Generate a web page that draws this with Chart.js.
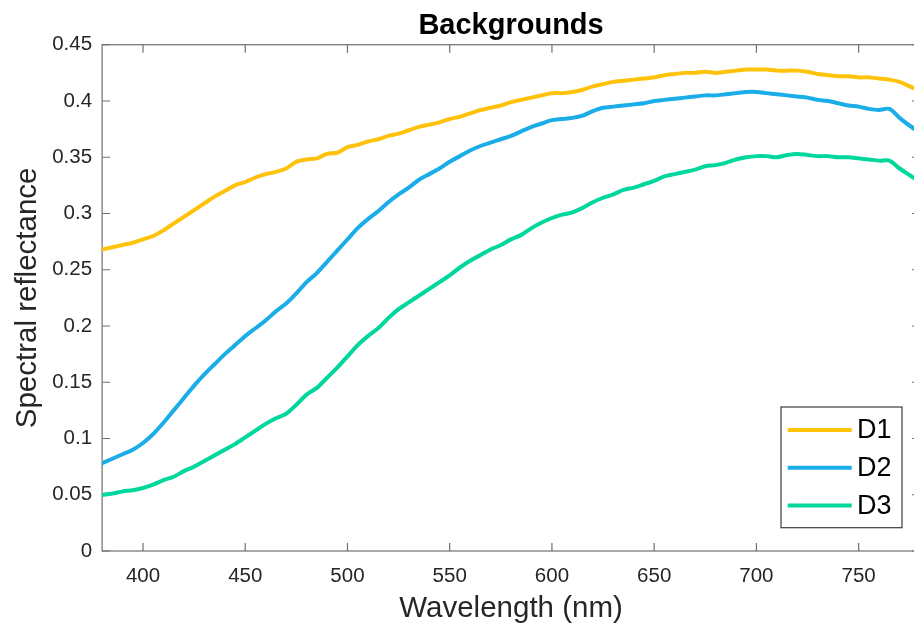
<!DOCTYPE html>
<html><head><meta charset="utf-8">
<script src="https://cdn.jsdelivr.net/npm/chart.js@4.4.1/dist/chart.umd.min.js"></script>
<style>html,body{margin:0;padding:0;background:#fff;overflow:hidden;width:914px;height:626px}canvas{display:block}</style>
</head><body>
<canvas id="c" width="924" height="626"></canvas>
<script>
// ---- data ----
const wavelengths = [380,385,390,395,400,405,410,415,420,425,430,435,440,445,450,455,460,465,470,475,
480,485,490,495,500,505,510,515,520,525,530,535,540,545,550,555,560,565,570,575,
580,585,590,595,600,605,610,615,620,625,630,635,640,645,650,655,660,665,670,675,
680,685,690,695,700,705,710,715,720,725,730,735,740,745,750,755,760,765,770,775,780];
const d1 = [0.268,0.270,0.272,0.274,0.277,0.280,0.285,0.291,0.297,0.303,
0.309,0.315,0.320,0.325,0.328,0.332,0.335,0.337,0.340,0.346,
0.348,0.349,0.353,0.354,0.359,0.361,0.364,0.366,0.369,0.371,
0.374,0.377,0.379,0.381,0.384,0.386,0.389,0.392,0.394,0.396,
0.399,0.401,0.403,0.405,0.407,0.407,0.408,0.410,0.413,0.415,
0.417,0.418,0.419,0.420,0.421,0.423,0.424,0.425,0.425,0.426,
0.425,0.426,0.427,0.428,0.428,0.428,0.427,0.427,0.427,0.426,
0.424,0.423,0.422,0.422,0.421,0.421,0.420,0.419,0.417,0.413,0.409];
const d2 = [0.078,0.082,0.086,0.090,0.096,0.104,0.114,0.125,0.136,0.147,
0.157,0.166,0.175,0.183,0.191,0.198,0.205,0.213,0.220,0.229,
0.239,0.247,0.257,0.267,0.277,0.287,0.295,0.302,0.310,0.317,
0.323,0.330,0.335,0.340,0.346,0.351,0.356,0.360,0.363,0.366,
0.369,0.373,0.377,0.380,0.383,0.384,0.385,0.387,0.391,0.394,
0.395,0.396,0.397,0.398,0.400,0.401,0.402,0.403,0.404,0.405,
0.405,0.406,0.407,0.408,0.408,0.407,0.406,0.405,0.404,0.403,
0.401,0.400,0.398,0.396,0.395,0.393,0.392,0.393,0.385,0.378,0.372];
const d3 = [0.050,0.051,0.053,0.054,0.056,0.059,0.063,0.066,0.071,0.075,
0.080,0.085,0.090,0.095,0.101,0.107,0.113,0.118,0.122,0.130,
0.139,0.145,0.154,0.163,0.173,0.183,0.191,0.198,0.207,0.215,
0.221,0.227,0.233,0.239,0.245,0.252,0.258,0.263,0.268,0.272,
0.277,0.281,0.287,0.292,0.296,0.299,0.301,0.305,0.310,0.314,
0.317,0.321,0.323,0.326,0.329,0.333,0.335,0.337,0.339,0.342,
0.343,0.345,0.348,0.350,0.351,0.351,0.350,0.352,0.353,0.352,
0.351,0.351,0.350,0.350,0.349,0.348,0.347,0.347,0.340,0.334,0.328];
const seriesNames = ['D1','D2','D3'];
const seriesColors = ['#FFC20A','#1BADE8','#00D79C'];
const xTickValues = [400,450,500,550,600,650,700,750];
const yTickValues = [0,0.05,0.1,0.15,0.2,0.25,0.3,0.35,0.4,0.45];
const yTickLabels = ['0','0.05','0.1','0.15','0.2','0.25','0.3','0.35','0.4','0.45'];

const FONT = '"Liberation Sans", Arial, Helvetica, sans-serif';
const seriesValues = [d1, d2, d3];

// centre the title over the plot area (as in the reference)
const titleCenterPlugin = {
  id: 'titleCenter',
  afterLayout(chart) {
    const tb = chart.titleBlock;
    if (tb) { tb.left = chart.chartArea.left; tb.right = chart.chartArea.right; }
  }
};

const framePlugin = {
  id: 'frame',
  beforeDatasetsDraw(chart) {
    const {ctx, chartArea: a, scales: {x, y}} = chart;
    ctx.save();
    ctx.strokeStyle = '#707070';
    ctx.lineWidth = 1.2;
    ctx.strokeRect(a.left, a.top, a.right - a.left, a.bottom - a.top);
    ctx.beginPath();
    const L = 8;
    x.ticks.forEach(t => {
      const px = x.getPixelForValue(t.value);
      ctx.moveTo(px, a.bottom); ctx.lineTo(px, a.bottom - L);
      ctx.moveTo(px, a.top); ctx.lineTo(px, a.top + L);
    });
    y.ticks.forEach(t => {
      const py = y.getPixelForValue(t.value);
      ctx.moveTo(a.left, py); ctx.lineTo(a.left + L, py);
      ctx.moveTo(a.right, py); ctx.lineTo(a.right - L, py);
    });
    ctx.stroke();
    ctx.restore();
  }
};

const legendPlugin = {
  id: 'boxLegend',
  afterDatasetsDraw(chart) {
    const {ctx, chartArea: a} = chart;
    const w = 121, h = 120.7;
    const right = a.right - 18, bottom = a.bottom - 23.3;
    const left = right - w, top = bottom - h;
    ctx.save();
    ctx.fillStyle = '#ffffff';
    ctx.fillRect(left, top, w, h);
    ctx.strokeStyle = '#3c3c3c';
    ctx.lineWidth = 1.2;
    ctx.strokeRect(left, top, w, h);
    ctx.font = '27px ' + FONT;
    ctx.textBaseline = 'middle';
    ctx.textAlign = 'left';
    chart.data.datasets.forEach((ds, i) => {
      const cy = top + 23 + i * 37.8;
      ctx.strokeStyle = ds.borderColor;
      ctx.lineWidth = 4;
      ctx.beginPath();
      ctx.moveTo(left + 6.7, cy); ctx.lineTo(left + 70.7, cy);
      ctx.stroke();
      ctx.fillStyle = '#000';
      ctx.fillText(ds.label, left + 76, cy + 1);
    });
    ctx.restore();
  }
};

new Chart(document.getElementById('c'), {
  type: 'line',
  data: {
    datasets: seriesNames.map((name, i) => ({
      label: name,
      data: wavelengths.map((w, j) => ({x: w, y: seriesValues[i][j]})),
      borderColor: seriesColors[i],
      backgroundColor: seriesColors[i],
      borderWidth: 4,
      pointRadius: 0,
      tension: 0.3,
      borderJoinStyle: 'round',
      borderCapStyle: 'round',
      fill: false
    }))
  },
  options: {
    responsive: false,
    animation: false,
    devicePixelRatio: 1,
    layout: {padding: {left: 0, right: 4, top: 0, bottom: 0}},
    plugins: {
      legend: {display: false},
      tooltip: {enabled: false},
      title: {
        display: true,
        text: 'Backgrounds',
        color: '#000',
        font: {family: FONT, size: 29, weight: 'bold', lineHeight: 1.2},
        padding: {top: 9, bottom: 0.95}
      }
    },
    scales: {
      x: {
        type: 'linear',
        min: 380, max: 780,
        grid: {display: false, drawTicks: false},
        border: {display: false},
        afterBuildTicks: s => { s.ticks = xTickValues.map(v => ({value: v})); },
        afterFit: s => { s.height = 75; },
        ticks: {
          autoSkip: false, maxRotation: 0, padding: 13,
          color: '#262626',
          font: {family: FONT, size: 20.5},
          callback: v => String(v)
        },
        title: {
          display: true, text: 'Wavelength (nm)', color: '#262626',
          font: {family: FONT, size: 29.5, lineHeight: 1},
          padding: {top: 0, bottom: 2}
        }
      },
      y: {
        type: 'linear',
        min: 0, max: 0.45,
        grid: {display: false, drawTicks: false},
        border: {display: false},
        afterBuildTicks: s => { s.ticks = yTickValues.map(v => ({value: v})); },
        afterFit: s => { s.width = 102.1; },
        ticks: {
          autoSkip: false, padding: 10,
          color: '#262626',
          font: {family: FONT, size: 20.5},
          callback: (v, i) => yTickLabels[i]
        },
        title: {
          display: true, text: 'Spectral reflectance', color: '#262626',
          font: {family: FONT, size: 29.5, lineHeight: 1},
          padding: {top: 13.5, bottom: 0}
        }
      }
    }
  },
  plugins: [titleCenterPlugin, framePlugin, legendPlugin]
});
</script>
</body></html>
